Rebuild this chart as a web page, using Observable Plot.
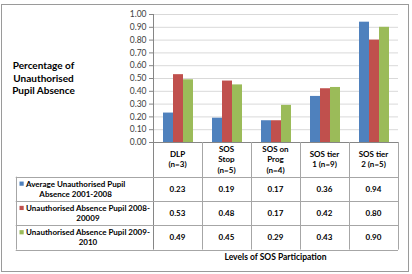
<!DOCTYPE html>
<html><head><meta charset="utf-8">
<script src="https://cdn.jsdelivr.net/npm/d3@7"></script>
<script src="https://cdn.jsdelivr.net/npm/@observablehq/plot@0.6"></script>
<style>html,body{margin:0;padding:0;background:#fff}#chart{width:412px;height:274px;position:relative}</style>
</head><body><div id="chart"></div>
<script>
// ---- data ----
const categories = ["DLP\n(n=3)", "SOS\nStop\n(n=5)", "SOS on\nProg\n(n=4)", "SOS tier\n1 (n=9)", "SOS tier\n2 (n=5)"];
const seriesNames = ["Average Unauthorised Pupil\nAbsence 2001-2008", "Unauthorised Absence Pupil 2008-\n20009", "Unauthorised Absence Pupil 2009-\n2010"];
const avg2001_2008 = [0.23, 0.19, 0.17, 0.36, 0.94];
const abs2008_20009 = [0.53, 0.48, 0.17, 0.42, 0.80];
const abs2009_2010 = [0.49, 0.45, 0.29, 0.43, 0.90];
const yTicks = [0.0, 0.1, 0.2, 0.3, 0.4, 0.5, 0.6, 0.7, 0.8, 0.9, 1.0];
const colors = ["#4F81BD", "#C0504D", "#9BBB59"];
const yTitle = ["Percentage of", "Unauthorised", "Pupil Absence"];
const xTitle = "Levels of SOS Participation";

const seriesValues = [avg2001_2008, abs2008_20009, abs2009_2010];
const data = seriesNames.flatMap((s, si) => categories.map((c, ci) => ({cat: c, series: s, value: seriesValues[si][ci]})));

const FONT = "Lato, 'Open Sans', sans-serif";
const W = 412, H = 274, ML = 151, MR = 12, MT = 14, MB = 132;

const plot = Plot.plot({
  width: W, height: H, marginLeft: ML, marginRight: MR, marginTop: MT, marginBottom: MB,
  style: {fontFamily: FONT, background: "transparent", overflow: "visible"},
  fx: {domain: categories, padding: 0, axis: null, label: null},
  x: {domain: seriesNames, paddingInner: 0, paddingOuter: 0.8, axis: null, label: null},
  y: {domain: [0, 1]},
  color: {domain: seriesNames, range: colors},
  marks: [
    Plot.gridY(yTicks, {stroke: "#d9d9d9", strokeOpacity: 1}),
    Plot.axisY(yTicks, {tickFormat: d3.format(".2f"), tickSize: 4, tickPadding: 3, fontSize: 8.5, fill: "#404040", stroke: "#868686", label: null}),
    Plot.barY(data, {fx: "cat", x: "series", y: "value", fill: "series"})
  ]
});
document.getElementById("chart").appendChild(plot);

// ---- data table, positioned with the plot's own scales ----
const svg = d3.select(plot);
const fx = plot.scale("fx");
const ys = plot.scale("y");
const bw = fx.bandwidth;
const x0 = fx.apply(categories[0]);
const x1 = fx.apply(categories[categories.length - 1]) + bw;
const yAxis0 = ys.apply(0), yAxis1 = ys.apply(1);
const headerH = 34.7, rowH = 24.3, legendLeft = 15.7;
const rowTop = i => yAxis0 + headerH + i * rowH;
const tableBottom = rowTop(seriesNames.length);
const lineColor = "#a6a6a6";
const g = svg.append("g").attr("font-family", FONT);
const px = v => Math.round(v) + 0.5;

// outer border
g.append("rect").attr("x", 1.5).attr("y", 4.5).attr("width", 407).attr("height", 267)
  .attr("fill", "none").attr("stroke", "#9a9a9a");

// axis line (vertical) and horizontal axis line
g.append("line").attr("x1", px(x0)).attr("x2", px(x0)).attr("y1", yAxis1).attr("y2", tableBottom).attr("stroke", "#868686");
g.append("line").attr("x1", x0).attr("x2", x1).attr("y1", px(yAxis0)).attr("y2", px(yAxis0)).attr("stroke", "#868686");
// column separators
categories.forEach(c => {
  const xr = px(fx.apply(c) + bw);
  g.append("line").attr("x1", xr).attr("x2", xr).attr("y1", yAxis0).attr("y2", tableBottom).attr("stroke", lineColor);
});
// legend left border
g.append("line").attr("x1", px(legendLeft)).attr("x2", px(legendLeft)).attr("y1", rowTop(0)).attr("y2", tableBottom).attr("stroke", lineColor);
// row lines
for (let i = 0; i <= seriesNames.length; i++) {
  g.append("line").attr("x1", legendLeft).attr("x2", x1).attr("y1", px(rowTop(i))).attr("y2", px(rowTop(i))).attr("stroke", lineColor);
}

// helper for multi-line centered text
function multiText(parent, lines, cx, cy, lh, size, anchor = "middle") {
  const t = parent.append("text").attr("font-size", size).attr("font-weight", "bold").attr("fill", "#000")
    .attr("text-anchor", anchor);
  const n = lines.length;
  lines.forEach((ln, i) => {
    t.append("tspan").attr("x", cx).attr("y", cy + (i - (n - 1) / 2) * lh).attr("dy", "0.35em").text(ln);
  });
  return t;
}

// header row
categories.forEach(c => {
  multiText(g, c.split("\n"), fx.apply(c) + bw / 2, yAxis0 + headerH / 2, 10.6, 8);
});
// value rows
seriesNames.forEach((s, si) => {
  const cy = rowTop(si) + rowH / 2;
  categories.forEach((c, ci) => {
    g.append("text").attr("x", fx.apply(c) + bw / 2).attr("y", cy).attr("dy", "0.35em")
      .attr("text-anchor", "middle").attr("font-size", 8).attr("font-weight", "bold").text(d3.format(".2f")(seriesValues[si][ci]));
  });
  // legend key
  const lines = s.split("\n");
  const lh = 10.2;
  const firstY = cy - (lines.length - 1) / 2 * lh;
  g.append("rect").attr("x", 19.5).attr("y", firstY - 2.2).attr("width", 4.2).attr("height", 4.2).attr("fill", colors[si]);
  // measure lines for block-centred text
  const tmp = g.append("text").attr("font-size", 8).attr("font-weight", "bold");
  const widths = lines.map(l => { tmp.text(l); return tmp.node().getComputedTextLength(); });
  tmp.remove();
  const bwid = Math.max(...widths);
  multiText(g, lines, 26 + bwid / 2, cy, lh, 8);
});

// y title
multiText(g, yTitle, 43.5, (yAxis0 + yAxis1) / 2, 12.7, 10);
// x title
g.append("text").attr("x", (x0 + x1) / 2).attr("y", 257).attr("dy", "0.35em").attr("text-anchor", "middle")
  .attr("font-size", 8.5).attr("font-weight", "bold").text(xTitle);
</script></body></html>
